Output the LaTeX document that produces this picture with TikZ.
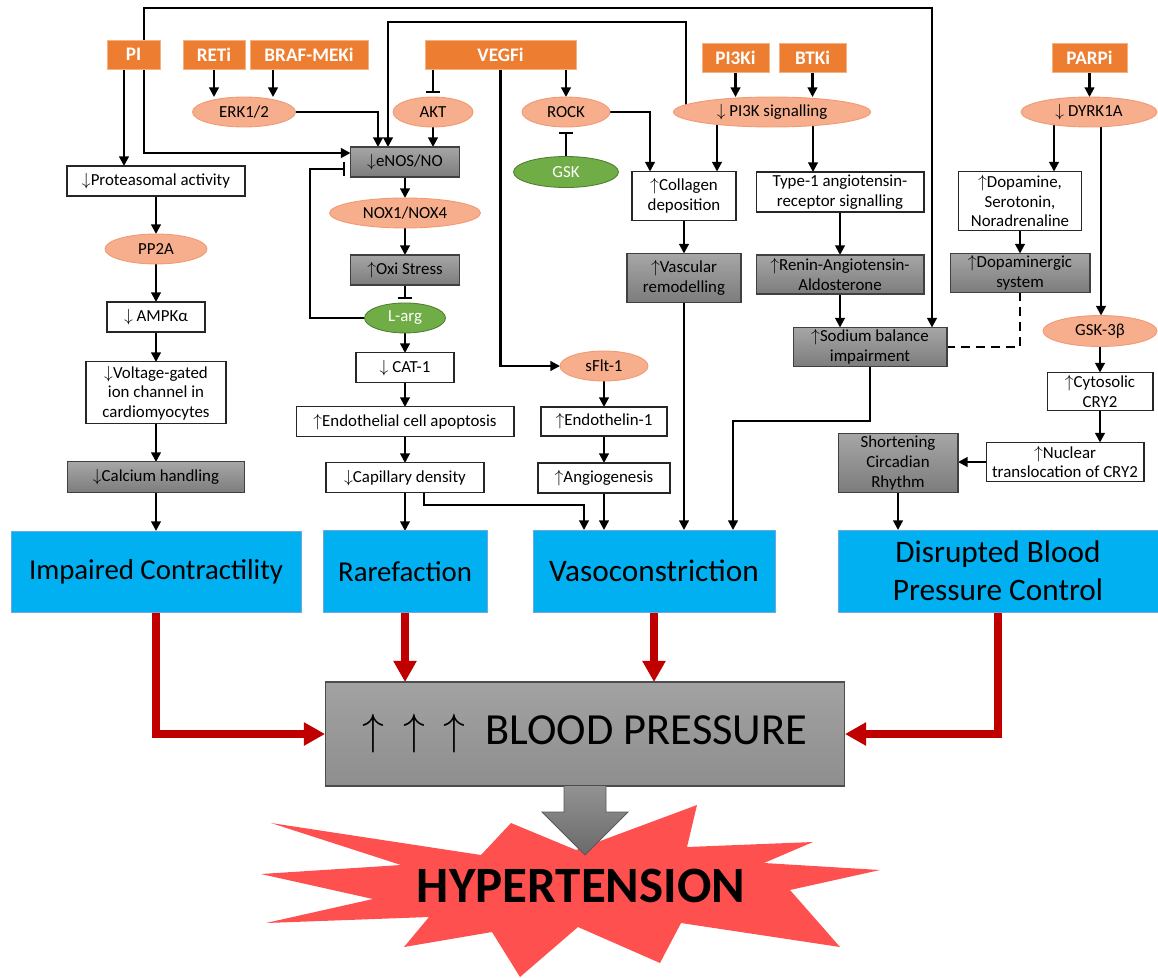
\documentclass[tikz,border=0pt]{standalone}
\usepackage{fontspec}
\setmainfont{Carlito}
\usetikzlibrary{shapes.geometric, arrows.meta, positioning, calc, backgrounds}

\definecolor{drugorange}{HTML}{ED7D31}
\definecolor{drugedge}{HTML}{F4B183}
\definecolor{salmon}{HTML}{F6AE8D}
\definecolor{salmonedge}{HTML}{F19A72}
\definecolor{leafgreen}{HTML}{70AD47}
\definecolor{leafedge}{HTML}{507E32}
\definecolor{greytop}{HTML}{A6A6A6}
\definecolor{greybot}{HTML}{7C7C7C}
\definecolor{bptop}{HTML}{A2A2A2}
\definecolor{bpbot}{HTML}{8E8E8E}
\definecolor{arrowtop}{HTML}{929292}
\definecolor{arrowbot}{HTML}{6A6A6A}
\definecolor{effectblue}{HTML}{00B0F0}
\definecolor{effectedge}{HTML}{6FA8DC}
\definecolor{deepred}{HTML}{C00000}
\definecolor{burstred}{HTML}{FF5050}

\newcommand{\upa}{$\uparrow$}
\newcommand{\dna}{$\downarrow$}
\newcommand{\smalllab}{\fontsize{9.6}{11.2}\selectfont}
\newcommand{\druglab}{\fontsize{10.9}{13}\selectfont\bfseries}
\newcommand{\effectlab}{\fontsize{16.4}{21.5}\selectfont}
\newcommand{\biglab}{\fontsize{17.8}{21.5}\selectfont}
\newcommand{\bplab}{\fontsize{25.3}{30}\selectfont}
\newcommand{\burstlab}{\fontsize{29}{34}\selectfont\bfseries}

\begin{document}
\begin{tikzpicture}[x=0.02cm, y=-0.02cm,
    drug/.style={rectangle, fill=drugorange, draw=drugedge, line width=0.5pt, text=white, font=\druglab, minimum height=0.58cm, inner sep=0pt, outer sep=0pt},
    oval/.style={ellipse, fill=salmon, draw=salmonedge, line width=0.5pt, font=\smalllab, minimum height=0.6cm, inner sep=0pt, outer sep=0pt},
    goodoval/.style={oval, fill=leafgreen, draw=leafedge, text=white},
    state/.style={rectangle, draw=black!85, line width=0.6pt, fill=white, font=\smalllab, align=center, minimum height=0.6cm, inner sep=1pt, outer sep=0pt},
    greystate/.style={state, draw=black!75, top color=greytop, bottom color=greybot},
    effect/.style={rectangle, fill=effectblue, draw=effectedge, line width=0.5pt, font=\effectlab, align=center, minimum height=1.64cm, inner sep=0pt, outer sep=0pt},
    arrow/.style={line width=1.2pt, -{Triangle[length=5.5pt, width=5.5pt]}},
    block/.style={line width=1.2pt, -{Bar[width=8pt]}},
    redarrow/.style={line width=4.2pt, draw=deepred, -{Triangle[length=12pt, width=12.5pt]}}
]
\useasboundingbox (0,0) rectangle (1158,977);

% explosion behind the final outcome
\fill[burstred] (271,823) -- (481,855) -- (511,823) -- (576,850) -- (697,805) -- (687,847) -- (813,842) -- (764,863) -- (880,870) -- (790,890) -- (840,947) -- (681,923) -- (660,963) -- (578,927) -- (520,977) -- (492,932) -- (404,947) -- (429,917) -- (266,923) -- (373,899) -- (261,874) -- (401,865) -- cycle;
\node[font=\burstlab] (hyper) at (581,886) {HYPERTENSION};

% drugs
\node[drug, minimum width=1.06cm] (pi) at (133.5,54.5) {PI};
\node[drug, minimum width=1.24cm] (reti) at (214,54.5) {RETi};
\node[drug, minimum width=2.36cm] (braf) at (309,54.5) {BRAF-MEKi};
\node[drug, minimum width=3.02cm] (vegf) at (500.5,54.5) {VEGFi};
\node[drug, minimum width=1.34cm] (pi3ki) at (735.5,57.5) {PI3Ki};
\node[drug, minimum width=1.34cm] (btki) at (812.5,57.5) {BTKi};
\node[drug, minimum width=1.5cm] (parpi) at (1089.5,57.5) {PARPi};

% first targets
\node[oval, minimum width=2.06cm] (erk) at (244,112) {ERK1/2};
\node[oval, minimum width=1.6cm] (akt) at (433,112) {AKT};
\node[oval, minimum width=1.76cm] (rock) at (566,112) {ROCK};
\node[goodoval, minimum width=2.1cm, minimum height=0.62cm] (gsk) at (566,172) {GSK};
\node[oval, minimum width=3.94cm] (pik) at (772,112) {\dna\ PI3K signalling};
\node[oval, minimum width=2.72cm] (dyrk) at (1089,112) {\dna\ DYRK1A};

% proteasome branch
\node[state, minimum width=3.56cm] (prot) at (156,181) {\dna Proteasomal activity};
\node[oval, minimum width=2.04cm, below=0.76cm of prot] (pp2a) {PP2A};
\node[state, minimum width=1.96cm, below=0.76cm of pp2a] (ampk) {\dna\ AMPKα};
\node[state, minimum width=2.8cm, minimum height=1.24cm, below=0.6cm of ampk] (volt) {\dna Voltage-gated\\ion channel in\\cardiomyocytes};
\node[greystate, minimum width=3.54cm, minimum height=0.62cm, below=0.76cm of volt] (calcium) {\dna Calcium handling};

% NO branch
\node[greystate, minimum width=2.18cm] (enos) at (405,162) {\dna eNOS/NO};
\node[oval, minimum width=3.02cm, below=0.42cm of enos] (nox) {NOX1/NOX4};
\node[greystate, minimum width=2.18cm, below=0.54cm of nox] (oxi) {\upa Oxi Stress};
\node[goodoval, minimum width=1.62cm, below=0.36cm of oxi] (larg) {L-arg};
\node[state, minimum width=1.96cm, below=0.4cm of larg] (cat) {\dna\ CAT-1};
\node[state, minimum width=4.36cm, below=0.48cm of cat] (endo) {\upa Endothelial cell apoptosis};
\node[state, minimum width=3.16cm, below=0.52cm of endo] (capil) {\dna Capillary density};

% sFlt-1 branch
\node[oval, minimum width=1.76cm] (sflt) at (604,366) {sFlt-1};
\node[state, minimum width=2.52cm, minimum height=0.58cm, below=0.52cm of sflt] (et1) {\upa Endothelin-1};
\node[state, minimum width=2.64cm, below=0.54cm of et1] (angio) {\upa Angiogenesis};

% remodelling and RAAS
\node[state, minimum width=2.08cm, minimum height=0.98cm] (coll) at (684,196) {\upa Collagen\\deposition};
\node[greystate, minimum width=2.28cm, minimum height=0.98cm, below=0.66cm of coll] (remod) {\upa Vascular\\remodelling};
\node[state, minimum width=3.36cm, minimum height=0.8cm] (at1) at (840,192) {Type-1 angiotensin-\\receptor signalling};
\node[greystate, minimum width=3.36cm, minimum height=0.78cm, below=0.86cm of at1] (raas) {\upa Renin-Angiotensin-\\Aldosterone};
\node[greystate, minimum width=3.08cm, minimum height=0.78cm] (sodium) at (870,347) {\upa Sodium balance\\impairment};

% DYRK1A branch
\node[state, minimum width=2.46cm, minimum height=1.18cm] (dopa) at (1020,201) {\upa Dopamine,\\Serotonin,\\Noradrenaline};
\node[greystate, minimum width=2.8cm, minimum height=0.78cm, below=0.46cm of dopa] (dsys) {\upa Dopaminergic\\system};
\node[oval, minimum width=2.28cm, minimum height=0.62cm] (gsk3) at (1100,331) {GSK-3β};
\node[state, minimum width=2.12cm, minimum height=0.76cm, below=0.52cm of gsk3] (cry) {\upa Cytosolic\\CRY2};
\node[state, minimum width=3.16cm, minimum height=0.78cm] (nuc) at (1065,462) {\upa Nuclear\\translocation of CRY2};
\node[greystate, minimum width=2.4cm, minimum height=1.18cm] (circ) at (898,463) {Shortening\\Circadian\\Rhythm};

% effects
\node[effect, minimum width=5.8cm, below=0.76cm of calcium] (contr) {Impaired Contractility};
\node[effect, minimum width=3.28cm, below=0.76cm of capil] (raref) {Rarefaction};
\node[effect, font=\biglab, minimum width=4.84cm] (vaso) at (654,571) {Vasoconstriction};
\node[effect, font=\biglab, minimum width=6.4cm] (bpctl) at (998,571) {Disrupted Blood\\Pressure Control};

% outcome
\node[rectangle, draw=black!70, line width=0.6pt, outer sep=0pt, top color=bptop, bottom color=bpbot, font=\bplab, minimum width=10.4cm, minimum height=2.08cm] (bp) at (585,734) {\upa\hspace{0.42em}\upa\hspace{0.42em}\upa\hspace{0.45em}BLOOD PRESSURE};
\draw[draw=black!65, line width=0.5pt, top color=arrowtop, bottom color=arrowbot] ($(bp.south)+(-21,0)$) -- ++(0,26) -- ++(-22,0) -- ($(bp.south)+(0,69)$) -- ($(bp.south)+(43,26)$) -- ++(-22,0) -- ($(bp.south)+(21,0)$);

\begin{scope}[on background layer]
% drug links
\draw[arrow] (124,0 |- pi.south) -- (124,0 |- prot.north);
\draw[arrow] (144,0 |- pi.south) |- (enos.west |- 0,153);
\draw[arrow] (144,0 |- pi.north) |- (932,8) -- (932,0 |- sodium.north);
\draw[arrow] (reti) -- (reti |- erk.north);
\draw[arrow] (273,0 |- braf.south) -- (273,0 |- erk.north);
\draw[arrow] (erk) -| (378,0 |- enos.north);
\draw[arrow] (686,0 |- pik) |- (388,22) -- (388,0 |- enos.north);
\draw[block, shorten >=2.5pt] (433,0 |- vegf.south) -- (akt);
\draw[arrow] (akt) -- (enos.north -| akt);
\draw[arrow] (566,0 |- vegf.south) -- (rock);
\draw[arrow] (vegf) |- (sflt);
\draw[block, shorten >=3pt] (gsk) -- (rock);
\draw[arrow] (rock) -| (650,0 |- coll.north);
\draw[arrow] (pi3ki) -- (pi3ki |- pik.north);
\draw[arrow] (btki) -- (btki |- pik.north);
\draw[arrow] (717,0 |- pik) -- (717,0 |- coll.north);
\draw[arrow] (813,0 |- pik) -- (813,0 |- at1.north);
\draw[arrow] (parpi) -- (parpi |- dyrk.north);
\draw[arrow] (1054,0 |- dyrk) -- (1054,0 |- dopa.north);
\draw[arrow] (1101,0 |- dyrk) -- (1101,0 |- gsk3.north);

% chains
\draw[arrow] (prot) -- (pp2a);
\draw[arrow] (pp2a) -- (ampk);
\draw[arrow] (ampk) -- (volt);
\draw[arrow] (volt) -- (calcium);
\draw[arrow] (calcium) -- (contr);
\draw[arrow] (enos) -- (nox);
\draw[arrow] (nox) -- (oxi);
\draw[block, shorten >=2pt] (oxi) -- (larg);
\draw[block, shorten >=3pt] (larg) -| (310,169) -- (enos.west |- 0,169);
\draw[arrow] (larg) -- (cat);
\draw[arrow] (cat) -- (endo);
\draw[arrow] (endo) -- (capil);
\draw[arrow] (capil) -- (raref);
\draw[arrow] (424,0 |- capil.south) |- (584,505) -- (584,0 |- vaso.north);
\draw[arrow] (sflt) -- (et1);
\draw[arrow] (et1) -- (angio);
\draw[arrow] (angio) -- (angio |- vaso.north);
\draw[arrow] (coll) -- (remod);
\draw[arrow] (remod) -- (remod |- vaso.north);
\draw[arrow] (at1) -- (raas);
\draw[arrow] (raas) -- (raas |- sodium.north);
\draw[arrow] (sodium) |- (733,421) -- (733,0 |- vaso.north);
\draw[arrow] (dopa) -- (dsys);
\draw[line width=1.2pt, dash pattern=on 5pt off 3.5pt] (dsys) |- (sodium);
\draw[arrow] (gsk3) -- (cry);
\draw[arrow] (cry) -- (cry |- nuc.north);
\draw[arrow] (nuc) -- (circ.east |- nuc);
\draw[arrow] (circ) -- (circ |- bpctl.north);

% effects to blood pressure
\draw[redarrow] (contr) |- (bp);
\draw[redarrow] (raref) -- (raref |- bp.north);
\draw[redarrow] (vaso) -- (vaso |- bp.north);
\draw[redarrow] (bpctl) |- (bp);
\end{scope}

\end{tikzpicture}
\end{document}
